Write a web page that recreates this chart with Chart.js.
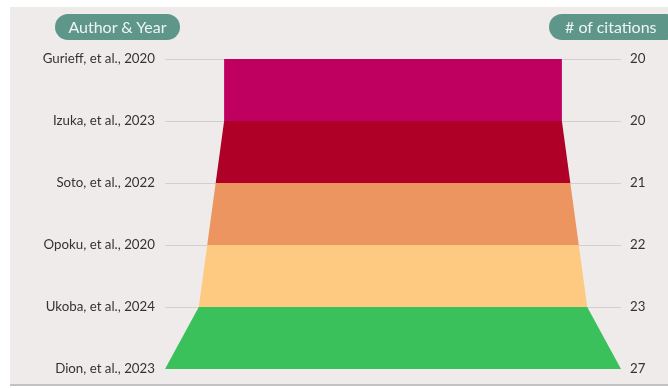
<!DOCTYPE html>
<html>
<head>
<meta charset="utf-8">
<script src="https://cdn.jsdelivr.net/npm/chart.js@4.4.1/dist/chart.umd.min.js"></script>
<style>
  html, body { margin: 0; padding: 0; background: #ffffff; }
  #wrap { position: relative; width: 668px; height: 388px; overflow: hidden; font-family: Lato, "Open Sans", sans-serif; }
  #panel { position: absolute; left: 10px; top: 7px; width: 658px; height: 377px; background: #efebea; border-bottom: 2px solid #c4c2c1; }
  #chart { position: absolute; left: 0; top: 0; }
  .pill { position: absolute; top: 14px; height: 26px; line-height: 26px; background: #5f968a; color: #eef5f3;
          border-radius: 13px; font-size: 16px; text-align: center; }
  #pillLeft { left: 55px; width: 125px; }
  #pillRight { left: 549px; width: 130px; text-align: left; padding-left: 16px; box-sizing: border-box; }
</style>
</head>
<body>
<div id="wrap">
  <div id="panel"></div>
  <canvas id="chart" width="668" height="388"></canvas>
  <div class="pill" id="pillLeft">Author &amp; Year</div>
  <div class="pill" id="pillRight"># of citations</div>
</div>
<script>
// Studies, top to bottom, and their citation counts
const authors = [
  'Gurieff, et al., 2020',
  'Izuka, et al., 2023',
  'Soto, et al., 2022',
  'Opoku, et al., 2020',
  'Ukoba, et al., 2024',
  'Dion, et al., 2023'
];
const citations = [20, 20, 21, 22, 23, 27];
// One colour per band between consecutive studies
const bandColors = ['#bf0060', '#af0027', '#ec9560', '#fec980', '#3bc15c'];

// Each band is a trapezoid: left edge line + right edge line, filled between.
const datasets = [];
for (let k = 0; k < bandColors.length; k++) {
  const edge = (sign) => [
    { x: sign * citations[k], y: k },
    { x: sign * citations[k + 1], y: k + 1 }
  ];
  datasets.push({
    data: edge(-1),
    borderWidth: 0,
    pointRadius: 0,
    fill: false
  });
  datasets.push({
    data: edge(1),
    borderWidth: 0,
    pointRadius: 0,
    backgroundColor: bandColors[k],
    fill: '-1'
  });
}

const maxVal = Math.max(...citations);
const labelFont = { family: 'Lato, "Open Sans", sans-serif', size: 13.3 };

new Chart(document.getElementById('chart'), {
  type: 'line',
  data: { datasets },
  options: {
    responsive: false,
    animation: false,
    devicePixelRatio: 1,
    indexAxis: 'y',
    layout: { padding: { top: 59, bottom: 19, left: 0, right: 0 } },
    plugins: { legend: { display: false }, tooltip: { enabled: false } },
    scales: {
      x: {
        type: 'linear',
        display: false,
        min: -maxVal,
        max: maxVal
      },
      y: {
        type: 'linear',
        position: 'left',
        reverse: true,
        min: 0,
        max: authors.length - 1,
        afterFit: (s) => { s.width = 165; },
        border: { display: false },
        grid: {
          drawTicks: false,
          lineWidth: 1,
          color: (ctx) => (ctx.tick && ctx.tick.value === authors.length - 1) ? 'rgba(0,0,0,0)' : '#d3cfcd'
        },
        ticks: {
          stepSize: 1,
          padding: 10,
          color: '#333333',
          font: labelFont,
          callback: (v) => authors[v]
        }
      },
      y2: {
        type: 'linear',
        position: 'right',
        reverse: true,
        min: 0,
        max: citations.length - 1,
        afterFit: (s) => { s.width = 47; },
        border: { display: false },
        grid: { display: false, drawTicks: false },
        ticks: {
          stepSize: 1,
          padding: 9,
          color: '#333333',
          font: labelFont,
          callback: (v) => String(citations[v])
        }
      }
    }
  }
});
</script>
</body>
</html>
